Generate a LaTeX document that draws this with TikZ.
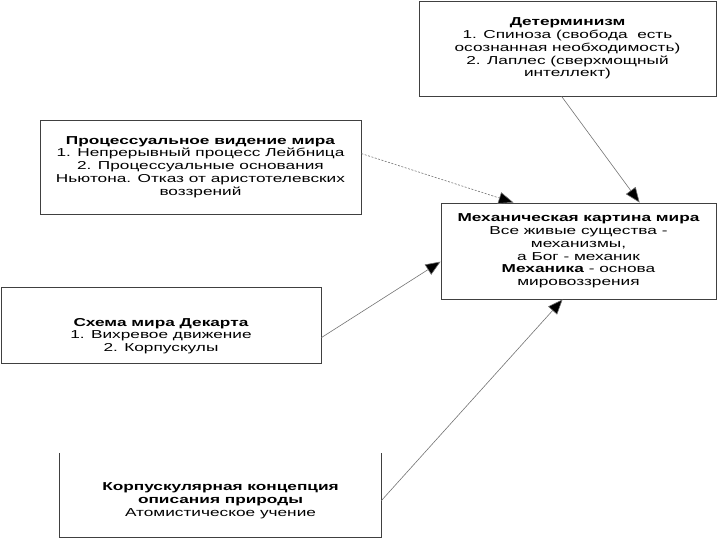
\documentclass[tikz,border=0pt]{standalone}
\usepackage{fontspec}
\setmainfont{Liberation Sans}[FakeStretch=1.5]
\usetikzlibrary{arrows.meta,calc}
\tikzset{
  boxfont/.style={font=\fontsize{11.5}{12.8}\selectfont},
  box/.style={draw=black!75, line width=0.8pt, fill=white, inner sep=0pt, align=center, boxfont},
  link/.style={draw=black!55, line width=0.6pt, -{Triangle[length=15pt,width=12pt,fill=black]}},
}
\begin{document}
\begin{tikzpicture}[x=1pt,y=-1pt]
\useasboundingbox (0,0) rectangle (720,540);
\node[box, minimum width=297pt, minimum height=95pt] (det) at (567.5,48.5)
  {\textbf{Детерминизм}\\1. Спиноза (свобода\ \ есть\\осознанная необходимость)\\2. Лаплес (сверхмощный\\интеллект)};
\node[box, minimum width=321pt, minimum height=94pt] (proc) at (200.5,167)
  {\textbf{Процессуальное видение мира}\\1. Непрерывный процесс Лейбница\\2. Процессуальные основания\\Ньютона. Отказ от аристотелевских\\воззрений};
\node[box, minimum width=275pt, minimum height=96pt] (mech) at (578.5,251)
  {\textbf{Механическая картина мира}\\Все живые существа -\\механизмы,\\а Бог - механик\\\textbf{Механика} - основа\\мировоззрения};
\node[box, minimum width=320pt, minimum height=76pt] (desc) at (161,325)
  {};
\node[align=center, boxfont] (desctext) at (161,336)
  {\textbf{Схема мира Декарта}\\1. Вихревое движение\\2. Корпускулы};
\node[inner sep=0pt, minimum width=321pt, minimum height=84pt] (corp) at (220.5,495) {};
\node[align=center, boxfont] (corptext) at (220.5,501)
  {\textbf{Корпускулярная концепция}\\\textbf{описания природы}\\Атомистическое учение};
\draw[draw=black!75, line width=0.8pt] (corp.north west) -- (corp.south west) -- (corp.south east) -- (corp.north east);
\draw[link] ($(det.south west)+(143,0)$) -- ($(mech.north west)+(199,0)$);
\draw[link, dashed, dash pattern=on 2pt off 1.5pt] ($(proc.north east)+(0,34)$) -- ($(mech.north west)+(73,0)$);
\draw[link] ($(desc.north east)+(0,51)$) -- ($(mech.north west)+(0,59)$);
\draw[link] ($(corp.north east)+(0,48)$) -- ($(mech.south west)+(122,0)$);
\end{tikzpicture}
\end{document}
